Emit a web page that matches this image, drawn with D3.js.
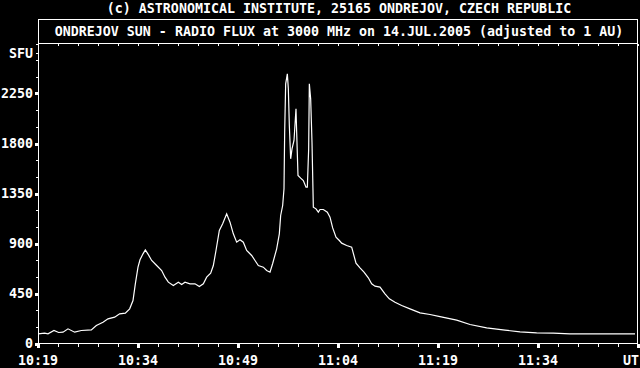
<!DOCTYPE html>
<html>
<head>
<meta charset="utf-8">
<script src="https://cdn.jsdelivr.net/npm/d3@7"></script>
<style>
  html, body { margin: 0; padding: 0; background: #000; }
  svg { display: block; }
  text { font-family: "DejaVu Sans Mono", "Liberation Mono", monospace; font-size: 13.3px; font-weight: bold; fill: #fff; }
</style>
</head>
<body>
<svg width="640" height="368"></svg>
<script>
// minutes after 10:19 UT
var minutes = [0, 1.0, 1.5, 2.4, 3.1, 3.75, 4.5, 5.5, 6.5, 8.0, 8.75, 9.75, 10.5, 11.5, 12.25, 13.1, 13.75, 14.25, 14.6, 15.0,
  15.3, 15.75, 16.1, 16.55, 17.05, 17.8, 18.55, 19.05, 19.55, 20.3, 21.05, 21.55, 22.05, 22.8, 23.55, 24.2, 24.8, 25.3, 25.9, 26.3,
  26.7, 27.2, 27.7, 28.3, 28.8, 29.3, 29.8, 30.3, 30.8, 31.3, 32.05, 32.55, 33.05, 33.8, 34.3, 34.8, 35.2, 35.8, 36.2, 36.4,
  36.7, 36.9, 37.0, 37.15, 37.4, 37.55, 37.7, 37.9, 38.1, 38.4, 38.7, 38.8, 39.0, 39.4, 39.8, 40.2, 40.4, 40.6, 40.7, 40.9,
  41.1, 41.3, 41.7, 42.05, 42.3, 42.8, 43.4, 43.8, 44.2, 44.7, 45.2, 45.55, 46.3, 47.05, 47.7, 48.3, 48.9, 49.55, 50.05, 50.55,
  51.3, 52.05, 52.7, 53.55, 54.55, 55.8, 57.3, 58.8, 60.3, 62.8, 64.8, 67.3, 70.05, 72.3, 74.8, 77.3, 79.8, 82.3, 87.3, 89.55];
var flux = [87, 93, 87, 117, 99, 102, 132, 102, 117, 123, 162, 192, 222, 237, 267, 273, 312, 387, 537, 687,
  753, 807, 843, 800, 747, 702, 657, 597, 552, 522, 552, 531, 552, 537, 537, 513, 537, 597, 633, 702,
  837, 1017, 1077, 1167, 1092, 987, 912, 933, 912, 837, 792, 747, 702, 687, 657, 642, 720, 852, 987, 1152,
  1242, 1392, 1902, 2337, 2427, 2292, 1962, 1662, 1752, 1827, 2112, 1902, 1512, 1488, 1467, 1407, 1407, 1752, 2337, 2202,
  1812, 1227, 1212, 1182, 1206, 1206, 1182, 1137, 1040, 957, 927, 903, 882, 867, 723, 681, 642, 591, 537, 516,
  507, 447, 402, 372, 342, 312, 276, 261, 242, 210, 171, 141, 120, 105, 96, 93, 87, 87, 87, 87];

var xTickMinutes = [0, 15, 30, 45, 60, 75, 90];
var xTickLabels = ["10:19", "10:34", "10:49", "11:04", "11:19", "11:34", "UT"];
var yTicks = [0, 450, 900, 1350, 1800, 2250];
var yUnitAt = 2610;

var topText = "(c) ASTRONOMICAL INSTITUTE, 25165 ONDREJOV, CZECH REPUBLIC";
var titleText = "ONDREJOV SUN - RADIO FLUX at 3000 MHz on 14.JUL.2005 (adjusted to 1 AU)";

var svg = d3.select("svg");
svg.append("rect").attr("width", 640).attr("height", 368).attr("fill", "#000");

var pLeft = 38, pRight = 638, pTop = 43.5, pBottom = 343.5;
var x = d3.scaleLinear().domain([0, 90]).range([pLeft, pRight]);
var y = d3.scaleLinear().domain([0, 2700]).range([pBottom, pTop]);

var minorX = d3.range(0, 91, 3);
var minorY = d3.range(0, 2701, 150);

function px(v) { return Math.round(v) + 0.5; }

var g = svg.append("g").attr("shape-rendering", "crispEdges");
// bottom and top ticks
g.selectAll(".mxb").data(minorX).enter().append("line")
  .attr("x1", function(d) { return px(x(d)); }).attr("x2", function(d) { return px(x(d)); })
  .attr("y1", pBottom).attr("y2", pBottom + 3).attr("stroke", "#fff");
g.selectAll(".mxt").data(minorX).enter().append("line")
  .attr("x1", function(d) { return px(x(d)); }).attr("x2", function(d) { return px(x(d)); })
  .attr("y1", pTop).attr("y2", pTop + 2).attr("stroke", "#fff");
g.selectAll(".Mxb").data(xTickMinutes).enter().append("rect")
  .attr("x", function(d) { return Math.round(x(d)) - 1; }).attr("y", pBottom)
  .attr("width", 3).attr("height", 4).attr("fill", "#fff");

// left ticks
g.selectAll(".my").data(minorY).enter().append("line")
  .attr("x1", pLeft - 2).attr("x2", pLeft)
  .attr("y1", function(d) { return px(y(d)); }).attr("y2", function(d) { return px(y(d)); })
  .attr("stroke", "#fff");
g.selectAll(".My").data(yTicks).enter().append("rect")
  .attr("x", pLeft - 3).attr("y", function(d) { return Math.round(y(d)) - 1; })
  .attr("width", 3).attr("height", 3).attr("fill", "#fff");
g.append("rect").attr("x", pLeft - 2).attr("y", Math.round(y(yUnitAt))).attr("width", 2).attr("height", 1).attr("fill", "#fff");

// frame
g.append("path")
  .attr("d", "M" + (pLeft + 0.5) + "," + pBottom + "V19.5H" + (pRight - 0.5) + "V" + pBottom + "H" + pLeft)
  .attr("fill", "none").attr("stroke", "#fff");
g.append("line").attr("x1", pLeft).attr("x2", pRight).attr("y1", pTop).attr("y2", pTop).attr("stroke", "#fff");

// data
var pts = minutes.map(function(m, i) { return [m, flux[i]]; });
var line = d3.line().x(function(d) { return x(d[0]); }).y(function(d) { return y(d[1]); });
svg.append("path").datum(pts).attr("d", line)
  .attr("fill", "none").attr("stroke", "#fff").attr("stroke-width", 1.2);

// texts
svg.append("text").attr("x", 339).attr("y", 13).attr("text-anchor", "middle").text(topText);
svg.append("text").attr("x", 339).attr("y", 36).attr("text-anchor", "middle").text(titleText);

svg.selectAll(".yl").data(yTicks).enter().append("text")
  .attr("x", 33).attr("y", function(d) { return y(d) + 4.5; })
  .attr("text-anchor", "end").text(function(d) { return d; });
svg.append("text").attr("x", 33).attr("y", y(yUnitAt) + 4.5).attr("text-anchor", "end").text("SFU");

svg.selectAll(".xl").data(xTickMinutes).enter().append("text")
  .attr("x", function(d, i) { return i == xTickMinutes.length - 1 ? 639 : x(d); })
  .attr("y", 365)
  .attr("text-anchor", function(d, i) { return i == xTickMinutes.length - 1 ? "end" : "middle"; })
  .text(function(d, i) { return xTickLabels[i]; });
</script>
</body>
</html>
